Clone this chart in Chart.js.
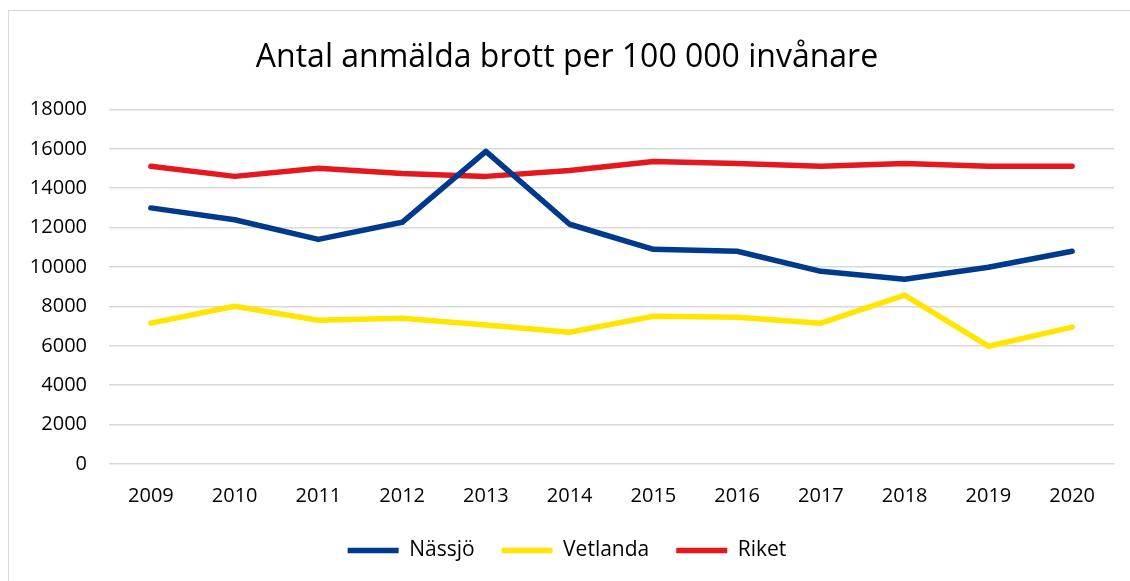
<!DOCTYPE html>
<html>
<head>
<meta charset="utf-8">
<script src="https://cdn.jsdelivr.net/npm/chart.js@4"></script>
<style>
  html, body { margin: 0; padding: 0; background: #fff; }
  #frame { position: absolute; left: 8px; top: 10px; width: 1130px; height: 600px; border: 1px solid #d9d9d9; box-sizing: border-box; }
  #wrap { position: absolute; left: 0; top: 0; width: 1130px; height: 581px; }
</style>
</head>
<body>
<div id="frame"></div>
<div id="wrap"><canvas id="lineChart"></canvas></div>
<script>
// data
const years = ['2009','2010','2011','2012','2013','2014','2015','2016','2017','2018','2019','2020'];
const nassjo   = [13000,12400,11400,12270,15870,12170,10900,10800,9780,9380,9990,10800];
const vetlanda = [7150,8010,7300,7400,7050,6690,7500,7450,7150,8570,5980,6950];
const riket    = [15110,14600,15010,14750,14600,14900,15360,15260,15110,15260,15110,15110];

const BLUE = '#003a8c';
const YELLOW = '#ffe600';
const RED = '#e3191f';
const FONT = "'Open Sans', sans-serif";

function series(label, data, color) {
  return {
    label: label,
    data: data,
    borderColor: color,
    backgroundColor: color,
    borderWidth: 5.5,
    borderCapStyle: 'round',
    borderJoinStyle: 'round',
    pointRadius: 0,
    tension: 0
  };
}

new Chart(document.getElementById('lineChart').getContext('2d'), {
  type: 'line',
  data: {
    labels: years,
    datasets: [
      series('Nässjö', nassjo, BLUE),
      series('Vetlanda', vetlanda, YELLOW),
      series('Riket', riket, RED)
    ]
  },
  options: {
    responsive: true,
    maintainAspectRatio: false,
    animation: false,
    layout: { padding: { left: 20, right: 16, top: 0, bottom: 10 } },
    scales: {
      x: {
        offset: true,
        grid: { display: false },
        border: { display: false },
        ticks: { color: '#000', font: { family: FONT, size: 20 }, padding: 12 },
        afterFit: s => { s.height = 49; }
      },
      y: {
        min: 0,
        max: 18000,
        ticks: {
          stepSize: 2000,
          color: '#000',
          font: { family: FONT, size: 20 },
          padding: 22,
          callback: v => String(v)
        },
        grid: { color: '#d9d9d9', lineWidth: 1.5, drawTicks: false },
        border: { display: false },
        afterFit: s => { s.width = 89; }
      }
    },
    plugins: {
      title: {
        display: true,
        text: 'Antal anmälda brott per 100 000 invånare',
        color: '#000',
        font: { family: FONT, size: 32, weight: 'normal' },
        padding: { top: 39, bottom: 32 }
      },
      legend: {
        position: 'bottom',
        labels: {
          color: '#000',
          font: { family: FONT, size: 21 },
          usePointStyle: true,
          pointStyle: 'line',
          pointStyleWidth: 51,
          padding: 27
        }
      },
      tooltip: { enabled: false }
    }
  }
});
</script>
</body>
</html>
